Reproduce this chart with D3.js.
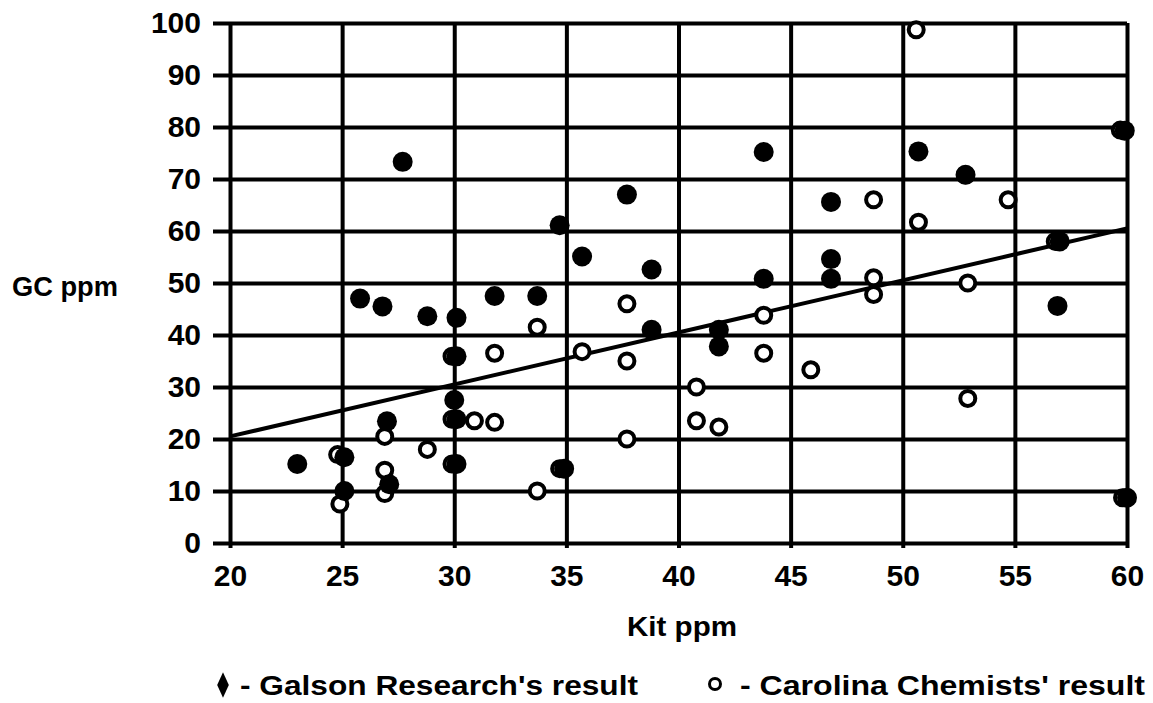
<!DOCTYPE html>
<html>
<head>
<meta charset="utf-8">
<script src="https://cdn.jsdelivr.net/npm/d3@7"></script>
<style>
  body { margin: 0; background: #fff; }
  svg { display: block; }
  .tick text { font-family: "Liberation Sans", Arial, sans-serif; font-weight: bold; font-size: 30px; fill: #000; }
  .lbl { font-family: "Liberation Sans", Arial, sans-serif; font-weight: bold; font-size: 28px; fill: #000; }
</style>
</head>
<body>
<div id="chart"></div>
<script>
var width = 1153,
    height = 703,
    margin = {top: 23, right: 26, bottom: 160, left: 230};

// x/y tick values
var xTicks = [20, 25, 30, 35, 40, 45, 50, 55, 60];
var yTicks = [0, 10, 20, 30, 40, 50, 60, 70, 80, 90, 100];

// Galson Research (filled markers)
var galsonKit = [23, 25.1, 25.1, 25.8, 26.8, 27, 27.1, 27.7, 28.8, 30.1, 30, 30.1, 30.1, 30.1, 31.8, 33.7, 34.7, 34.9, 35.7, 37.7, 38.8, 38.8, 41.8, 41.8, 43.8, 43.8, 46.8, 46.8, 46.8, 50.7, 52.8, 57, 56.9, 59.9, 60];
var galsonGC  = [15.2, 16.5, 10, 47, 45.5, 23.4, 11.3, 73.3, 43.6, 43.3, 27.5, 35.9, 23.8, 15.2, 47.5, 47.5, 61.1, 14.3, 55.1, 67, 52.6, 41, 41, 37.8, 75.2, 50.8, 65.6, 54.6, 50.8, 75.3, 70.8, 58, 45.6, 79.3, 8.7];

// Carolina Chemists (open markers)
var carolinaKit = [24.8, 24.9, 26.9, 26.9, 26.9, 28.8, 29.9, 29.9, 29.9, 30.9, 31.8, 31.8, 33.7, 33.7, 34.7, 35.7, 37.7, 37.7, 37.7, 40.8, 40.8, 41.8, 43.8, 43.8, 45.9, 48.7, 48.7, 48.7, 50.6, 50.7, 52.8, 52.9, 52.9, 54.7, 56.8, 59.7, 59.8];
var carolinaGC  = [17, 7.5, 20.5, 14, 9.5, 18, 35.9, 23.8, 15.2, 23.5, 23.2, 36.5, 41.5, 10, 14.3, 36.8, 46, 35, 20, 30, 23.5, 22.3, 43.8, 36.5, 33.3, 66, 51, 47.8, 98.7, 61.7, 70.8, 50, 27.8, 66, 58, 79.4, 8.7];

// fitted line endpoints
var trendKit = [20, 60];
var trendGC  = [20.5, 60.5];

var w = width - margin.left - margin.right,
    h = height - margin.top - margin.bottom;

var svg = d3.select("#chart").append("svg")
    .attr("width", width)
    .attr("height", height);

var g = svg.append("g")
    .attr("transform", "translate(" + margin.left + "," + margin.top + ")");

var x = d3.scaleLinear().domain([20, 60]).range([0, w]);
var y = d3.scaleLinear().domain([0, 100]).range([h, 0]);

// horizontal grid + y labels (ticks stick out left a bit)
var yAxis = g.append("g")
    .attr("transform", "translate(-17,0)")
    .call(d3.axisLeft(y).tickValues(yTicks).tickSize(-(w + 17)).tickPadding(12));

// vertical grid + x labels (ticks stick out below a bit)
var xAxis = g.append("g")
    .attr("transform", "translate(0," + (h + 5) + ")")
    .call(d3.axisBottom(x).tickValues(xTicks).tickSize(-(h + 5)).tickPadding(17));

[xAxis, yAxis].forEach(function(a) {
  a.select(".domain").remove();
  a.selectAll(".tick line").attr("stroke", "#000").attr("stroke-width", 4);
});

// trend line
var line = d3.line()
  .x(function(d) { return x(d[0]); })
  .y(function(d) { return y(d[1]); });

g.append("path")
  .datum(d3.zip(trendKit, trendGC))
  .attr("d", line)
  .attr("fill", "none")
  .attr("stroke", "#000")
  .attr("stroke-width", 4);

// open markers first, filled on top
g.selectAll("circle.carolina")
  .data(d3.zip(carolinaKit, carolinaGC))
  .enter().append("circle")
  .attr("class", "carolina")
  .attr("cx", function(d) { return x(d[0]); })
  .attr("cy", function(d) { return y(d[1]); })
  .attr("r", 7.5)
  .attr("fill", "#fff")
  .attr("stroke", "#000")
  .attr("stroke-width", 4);

g.selectAll("circle.galson")
  .data(d3.zip(galsonKit, galsonGC))
  .enter().append("circle")
  .attr("class", "galson")
  .attr("cx", function(d) { return x(d[0]); })
  .attr("cy", function(d) { return y(d[1]); })
  .attr("r", 10)
  .attr("fill", "#000");

// axis titles
svg.append("text").attr("class", "lbl")
  .attr("x", 12).attr("y", 296)
  .attr("textLength", 106).attr("lengthAdjust", "spacingAndGlyphs")
  .text("GC ppm");

svg.append("text").attr("class", "lbl")
  .attr("x", 627).attr("y", 636)
  .attr("textLength", 110).attr("lengthAdjust", "spacingAndGlyphs")
  .text("Kit ppm");

// legend
var legend = svg.append("g");
legend.append("path")
  .attr("d", d3.symbol(d3.symbolDiamond, 130))
  .attr("transform", "translate(223,685) scale(0.95,1.2)")
  .attr("fill", "#000");
legend.append("text").attr("class", "lbl")
  .attr("x", 240).attr("y", 695)
  .attr("textLength", 398).attr("lengthAdjust", "spacingAndGlyphs")
  .text("- Galson Research's result");

legend.append("circle")
  .attr("cx", 715).attr("cy", 684).attr("r", 5.5)
  .attr("fill", "#fff").attr("stroke", "#000").attr("stroke-width", 3);
legend.append("text").attr("class", "lbl")
  .attr("x", 740).attr("y", 695)
  .attr("textLength", 405).attr("lengthAdjust", "spacingAndGlyphs")
  .text("- Carolina Chemists' result");
</script>
</body>
</html>
